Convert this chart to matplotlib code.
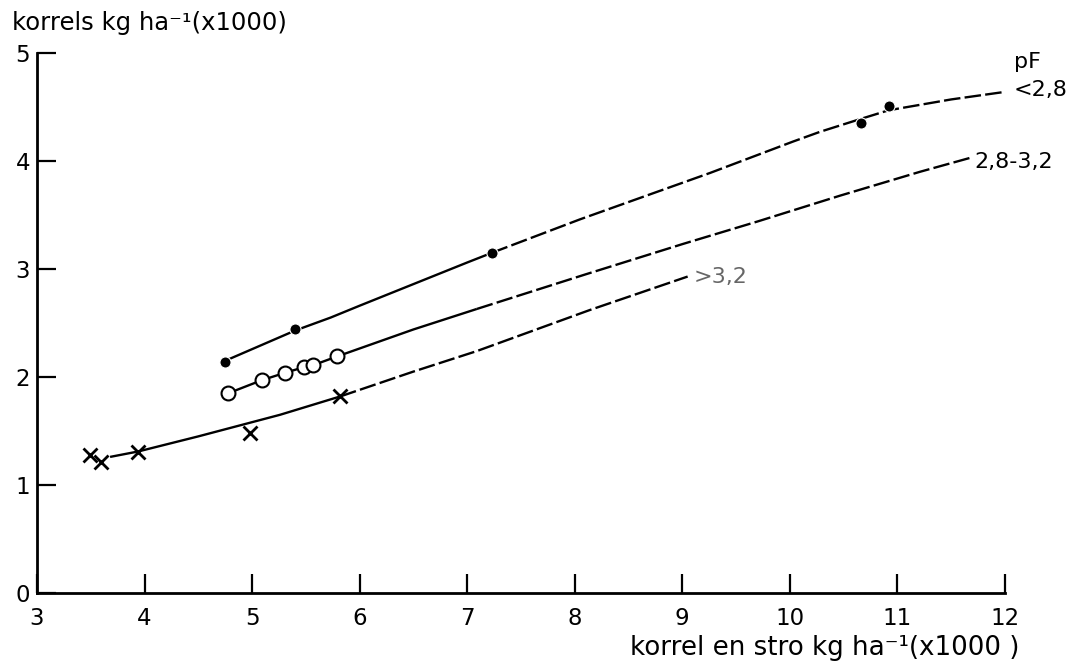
import numpy as np
import matplotlib
matplotlib.use("Agg")
import matplotlib.pyplot as plt

plt.rcParams['font.family'] = ['DejaVu Sans']

# fitted curves (x = korrel en stro, y = korrels, both x1000 kg/ha)
top_x = [4.75, 5.40, 5.73, 6.0, 6.5, 7.0, 7.23, 8.05, 8.5, 9.26, 10.03, 10.28, 10.66, 10.92, 11.5, 12.0]
top_y = [2.15, 2.43, 2.55, 2.66, 2.86, 3.06, 3.15, 3.46, 3.62, 3.89, 4.18, 4.27, 4.39, 4.47, 4.57, 4.64]

mid_x = [4.78, 5.09, 5.31, 5.48, 5.57, 5.79, 6.5, 7.09, 8.1, 9.0, 9.7, 10.47, 11.21, 11.68]
mid_y = [1.85, 1.97, 2.04, 2.09, 2.11, 2.19, 2.44, 2.63, 2.95, 3.23, 3.44, 3.68, 3.90, 4.03]

bot_x = [3.68, 3.94, 4.5, 5.26, 5.82, 6.5, 7.09, 8.14, 9.05]
bot_y = [1.26, 1.31, 1.45, 1.65, 1.82, 2.05, 2.24, 2.62, 2.93]

# observations
dots_x = [4.75, 5.40, 7.23, 10.66, 10.92]
dots_y = [2.14, 2.44, 3.15, 4.35, 4.51]
circles_x = [4.78, 5.09, 5.31, 5.48, 5.57, 5.79]
circles_y = [1.85, 1.97, 2.04, 2.09, 2.11, 2.19]
crosses_x = [3.49, 3.60, 3.94, 4.98, 5.82]
crosses_y = [1.28, 1.21, 1.31, 1.48, 1.82]

curve_labels = ['<2,8', '2,8-3,2', '>3,2']

fig = plt.figure(figsize=(10.87, 6.65), dpi=100)
ax = fig.add_axes([0.034, 0.1083, 0.8905, 0.812])


def draw_curve(xs, ys, split):
    xs = np.array(xs)
    ys = np.array(ys)
    solid = xs <= split
    dashed = xs >= xs[solid][-1]
    ax.plot(xs[solid], ys[solid], color='black', lw=1.7, solid_capstyle='butt')
    ax.plot(xs[dashed], ys[dashed], color='black', lw=1.7, dashes=(7, 1.8))


draw_curve(top_x, top_y, 7.3)
draw_curve(mid_x, mid_y, 7.1)
draw_curve(bot_x, bot_y, 6.0)

ax.plot(dots_x, dots_y, 'o', color='black', ms=8, mec='white', mew=0.8)
ax.plot(circles_x, circles_y, 'o', mfc='white', mec='black', ms=10, mew=1.5)
ax.plot(crosses_x, crosses_y, 'x', color='black', ms=10, mew=2)

# curve labels (pF classes)
ax.text(12.08, 4.92, 'pF', fontsize=16, ha='left', va='center', clip_on=False)
ax.text(12.08, 4.66, curve_labels[0], fontsize=16, ha='left', va='center', clip_on=False)
ax.text(11.72, 3.99, curve_labels[1], fontsize=16, ha='left', va='center', clip_on=False)
ax.text(9.11, 2.93, curve_labels[2], fontsize=16, ha='left', va='center', color='#666666')

ax.set_xlim(3, 12)
ax.set_ylim(0, 5)
ax.set_xticks(range(3, 13))
ax.set_yticks(range(0, 6))
ax.spines['top'].set_visible(False)
ax.spines['right'].set_visible(False)
for s in ['left', 'bottom']:
    ax.spines[s].set_linewidth(2)
ax.tick_params(axis='both', direction='in', length=14, width=1.6, labelsize=16.5)
ax.tick_params(axis='y', pad=5)
ax.tick_params(axis='x', pad=10)

fig.text(12 / 1087, 1 - 23 / 665, 'korrels kg ha⁻¹(x1000)', fontsize=17.5, ha='left', va='center')
fig.text(1020 / 1087, 1 - 648 / 665, 'korrel en stro kg ha⁻¹(x1000 )', fontsize=18.8, ha='right', va='center')

fig.savefig('out.png', dpi=100)
